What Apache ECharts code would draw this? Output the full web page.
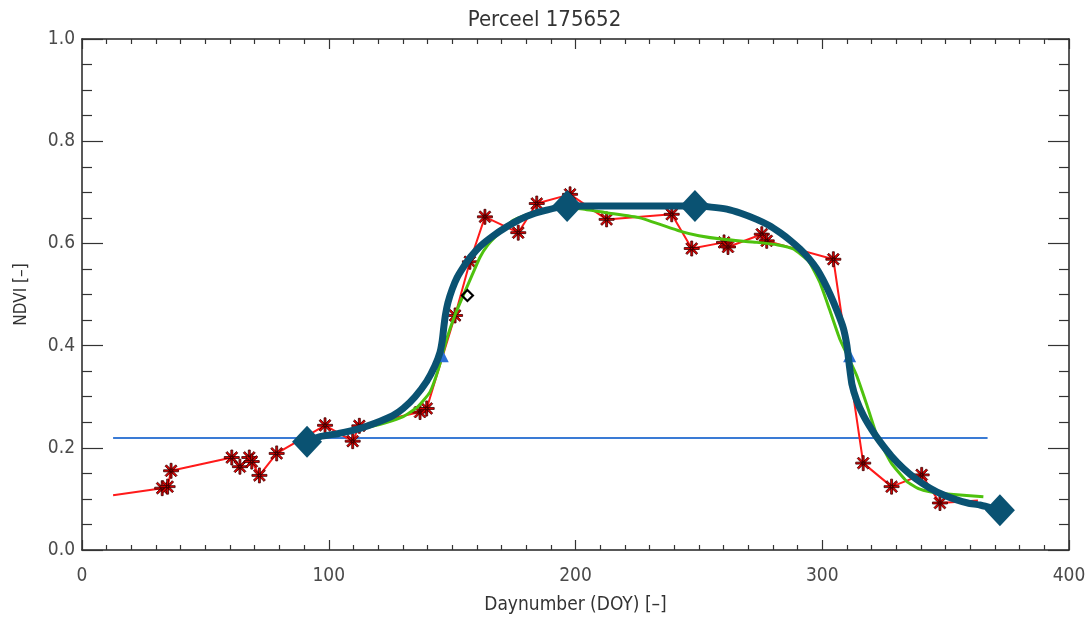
<!DOCTYPE html>
<html>
<head>
<meta charset="utf-8">
<script src="https://cdn.jsdelivr.net/npm/echarts@6/dist/echarts.min.js"></script>
<style>html,body{margin:0;padding:0;background:#fff}#c{width:1089px;height:620px}</style>
</head>
<body>
<div id="c"></div>
<script>
// ---- data ----
const titleText = 'Perceel 175652';
const xTicks = [0, 100, 200, 300, 400];
const yTicks = [0.0, 0.2, 0.4, 0.6, 0.8, 1.0];

// observed NDVI (red line, star markers)
const obsStart = [12.6, 0.107];          // line start without a star
const obsDoy = [32.5, 34.7, 36.1, 60.7, 64.0, 67.8, 68.8, 71.9, 78.9, 98.5, 109.7, 112.4, 137.0, 139.7, 151.2, 157.2, 163.3, 176.8, 184.3, 197.8, 212.6, 239.0, 247.1, 260.2, 261.8, 275.5, 277.5, 304.5, 316.6, 328.1, 340.3, 347.7];
const obsNdvi = [0.121, 0.124, 0.155, 0.181, 0.163, 0.181, 0.173, 0.146, 0.189, 0.244, 0.213, 0.243, 0.270, 0.277, 0.459, 0.564, 0.652, 0.621, 0.678, 0.696, 0.647, 0.657, 0.590, 0.602, 0.593, 0.618, 0.605, 0.569, 0.170, 0.124, 0.147, 0.092];
const obsEnd = [363.1, 0.097];           // line end without a star

// smoothed fit (green)
const fitDoy = [95.0, 100.0, 108.0, 116.7, 123.0, 130.2, 136.0, 141.0, 144.5, 147.8, 151.0, 154.5, 158.0, 161.3, 164.5, 168.0, 174.8, 184.3, 193.7, 202.0, 212.6, 226.1, 242.3, 250.0, 259.9, 273.4, 282.0, 288.3, 294.5, 299.0, 303.0, 307.1, 310.5, 313.9, 318.0, 322.1, 328.0, 334.3, 339.0, 343.7, 352.0, 365.3];
const fitNdvi = [0.222, 0.227, 0.233, 0.241, 0.249, 0.261, 0.280, 0.309, 0.355, 0.413, 0.458, 0.498, 0.537, 0.573, 0.597, 0.615, 0.645, 0.663, 0.670, 0.668, 0.660, 0.650, 0.624, 0.615, 0.608, 0.602, 0.597, 0.589, 0.565, 0.524, 0.470, 0.413, 0.378, 0.342, 0.285, 0.225, 0.170, 0.134, 0.120, 0.114, 0.109, 0.104];

// phenology model curve (thick dark blue)
const modDoy = [91.2, 96.5, 104.0, 112.7, 120.8, 126.0, 130.2, 135.0, 139.7, 143.0, 145.1, 146.0, 146.6, 147.3, 148.3, 150.0, 152.0, 154.5, 157.2, 161.5, 166.7, 172.0, 177.5, 183.0, 188.3, 192.5, 196.6, 248.4, 255.0, 261.3, 267.0, 273.4, 278.5, 282.9, 287.0, 291.0, 294.5, 297.8, 300.5, 303.2, 306.0, 308.5, 310.0, 311.0, 312.0, 314.0, 316.6, 320.0, 323.4, 328.0, 332.8, 338.0, 343.7, 349.0, 354.5, 359.0, 363.9, 368.0, 372.0];
const modNdvi = [0.212, 0.222, 0.228, 0.238, 0.252, 0.263, 0.277, 0.300, 0.330, 0.360, 0.387, 0.410, 0.435, 0.460, 0.484, 0.510, 0.533, 0.553, 0.572, 0.595, 0.615, 0.632, 0.647, 0.658, 0.665, 0.670, 0.673, 0.673, 0.671, 0.667, 0.659, 0.647, 0.635, 0.621, 0.606, 0.589, 0.571, 0.550, 0.527, 0.500, 0.468, 0.435, 0.400, 0.360, 0.325, 0.292, 0.264, 0.236, 0.212, 0.184, 0.160, 0.139, 0.121, 0.108, 0.098, 0.092, 0.088, 0.083, 0.078];

// key points (large diamonds)
const keyDoy = [91.2, 196.6, 248.4, 372.0];
const keyNdvi = [0.212, 0.673, 0.673, 0.078];

// half-way points (blue triangles)
const halfDoy = [146.0, 311.1];
const halfNdvi = [0.380, 0.380];

// single marked observation (small black diamond)
const markDoy = [156.2];
const markNdvi = [0.498];

// threshold line
const threshold = 0.219;
const thresholdRange = [12.6, 367.0];

// ---- chart ----
const zip = (a, b) => a.map((v, i) => [v, b[i]]);
const font = "'DejaVu Sans Condensed', 'Liberation Sans Narrow', 'DejaVu Sans', sans-serif";
const asterisk = 'path://M-10,-1.3L10,-1.3L10,1.3L-10,1.3Z M-1.3,-10L1.3,-10L1.3,10L-1.3,10Z M-6.15,-7.99L7.99,6.15L6.15,7.99L-7.99,-6.15Z M-7.99,6.15L6.15,-7.99L7.99,-6.15L-6.15,7.99Z';

const axisLine = {show: true, onZero: false, lineStyle: {color: '#222', width: 1.5}};
function xAx(pos, labels) {
  return {
    type: 'value', position: pos, min: 0, max: 400, interval: 100,
    axisLine: axisLine,
    axisTick: {show: true, inside: true, length: 10, lineStyle: {color: '#333', width: 1.2}},
    minorTick: {show: true, splitNumber: 10, length: 5, lineStyle: {color: '#333', width: 1.2}},
    splitLine: {show: false}, minorSplitLine: {show: false},
    axisLabel: {show: labels, margin: 17, color: '#4a4a4a', fontSize: 19, fontFamily: font},
    name: labels ? 'Daynumber (DOY) [\u2013]' : '', nameLocation: 'middle', nameGap: 46,
    nameTextStyle: {color: '#333', fontSize: 19, fontFamily: font}
  };
}
function yAx(pos, labels) {
  return {
    type: 'value', position: pos, min: 0, max: 1, interval: 0.2,
    axisLine: axisLine,
    axisTick: {show: true, inside: true, length: 21, lineStyle: {color: '#333', width: 1.2}},
    minorTick: {show: true, splitNumber: 4, length: 10, lineStyle: {color: '#333', width: 1.2}},
    splitLine: {show: false}, minorSplitLine: {show: false},
    axisLabel: {show: labels, margin: 7, color: '#4a4a4a', fontSize: 19, fontFamily: font, formatter: v => v.toFixed(1)},
    name: labels ? 'NDVI [\u2013]' : '', nameLocation: 'middle', nameGap: 52, nameRotate: 90,
    nameTextStyle: {color: '#333', fontSize: 17, fontFamily: font}
  };
}

const chart = echarts.init(document.getElementById('c'), null, {renderer: 'canvas'});
chart.setOption({
  animation: false,
  backgroundColor: '#fff',
  title: {text: titleText, left: 'center', top: 4, textStyle: {color: '#333', fontSize: 22, fontWeight: 'normal', fontFamily: font}},
  grid: {left: 82, right: 20, top: 39, bottom: 68},
  xAxis: [xAx('bottom', true), xAx('top', false)],
  yAxis: [yAx('left', true), yAx('right', false)],
  series: [
    {type: 'line', data: [[thresholdRange[0], threshold], [thresholdRange[1], threshold]], showSymbol: false, symbol: 'none',
     lineStyle: {color: '#3a7bd5', width: 2}, z: 2},
    {type: 'line', data: [obsStart].concat(zip(obsDoy, obsNdvi), [obsEnd]), symbol: 'none',
     lineStyle: {color: '#ff1a1a', width: 2}, z: 3},
    {type: 'scatter', data: zip(obsDoy, obsNdvi), symbol: asterisk, symbolSize: 15,
     itemStyle: {color: '#e00000', borderColor: '#3a0000', borderWidth: 0.8, opacity: 1}, z: 4},
    {type: 'line', data: zip(fitDoy, fitNdvi), symbol: 'none', smooth: 0.15,
     lineStyle: {color: '#4ec20e', width: 3, join: 'round'}, z: 5},
    {type: 'scatter', data: zip(halfDoy, halfNdvi), symbol: 'triangle', symbolSize: 13,
     itemStyle: {color: '#2a6fd6', opacity: 1}, z: 5},
    {type: 'line', data: zip(modDoy, modNdvi), symbol: 'none', smooth: 0.15,
     lineStyle: {color: '#0a5272', width: 7, cap: 'round', join: 'round'}, z: 6},
    {type: 'scatter', data: zip(keyDoy, keyNdvi), symbol: 'diamond', symbolSize: [30, 32],
     itemStyle: {color: '#0a5272', opacity: 1}, z: 7},
    {type: 'scatter', data: zip(markDoy, markNdvi), symbol: 'diamond', symbolSize: 11,
     itemStyle: {color: 'rgba(0,0,0,0)', borderColor: '#000', borderWidth: 2.2, opacity: 1}, z: 8}
  ]
});
</script>
</body>
</html>
